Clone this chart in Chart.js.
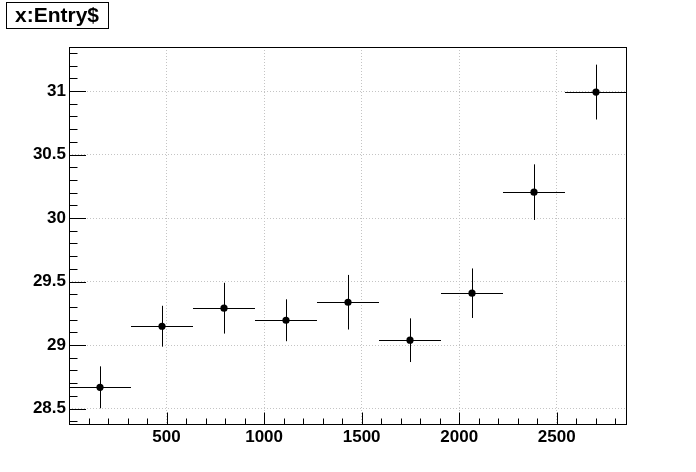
<!DOCTYPE html>
<html>
<head>
<meta charset="utf-8">
<script src="https://cdn.jsdelivr.net/npm/chart.js@4.4.0/dist/chart.umd.min.js"></script>
<style>
    html, body { margin: 0; padding: 0; background: #fff; }
    #wrap { width: 696px; height: 472px; }
</style>
</head>
<body>
<div id="wrap"><canvas id="entryCanvas" width="696" height="472"></canvas></div>
<script>
// values (bin centres, means, errors)
const binCenters = [158.9, 476.7, 794.4, 1112.2, 1430, 1747.8, 2065.6, 2383.3, 2701.1];
const binHalfWidth = 158.9;
const yValues = [28.667, 29.148, 29.290, 29.195, 29.337, 29.038, 29.408, 30.204, 30.992];
const yErrors = [0.165, 0.161, 0.200, 0.165, 0.215, 0.172, 0.195, 0.219, 0.216];
const xTicks = [500, 1000, 1500, 2000, 2500];
const yTicks = [28.5, 29, 29.5, 30, 30.5, 31];
const xRange = [0, 2860];
const yRange = [28.378, 31.347];
const titleText = 'x:Entry$';

const labelFont = { family: 'Liberation Sans', weight: 'bold', size: 17 };
const gridColor = '#c4c4c4';

// ROOT-like frame, inward tick marks, error bars and title box
const rootStyle = {
    id: 'rootStyle',
    beforeDatasetsDraw(chart) {
        const { ctx, scales: { x, y } } = chart;
        ctx.save();
        ctx.strokeStyle = '#000';
        ctx.lineWidth = 1;
        binCenters.forEach((c, i) => {
            const px = Math.round(x.getPixelForValue(c)) + 0.5;
            const py = Math.round(y.getPixelForValue(yValues[i])) + 0.5;
            ctx.beginPath();
            ctx.moveTo(x.getPixelForValue(c - binHalfWidth), py);
            ctx.lineTo(x.getPixelForValue(c + binHalfWidth), py);
            ctx.moveTo(px, y.getPixelForValue(yValues[i] - yErrors[i]));
            ctx.lineTo(px, y.getPixelForValue(yValues[i] + yErrors[i]));
            ctx.stroke();
        });
        ctx.restore();
    },
    afterDraw(chart) {
        const { ctx, chartArea: a, scales: { x, y } } = chart;
        ctx.save();
        ctx.strokeStyle = '#000';
        ctx.lineWidth = 1;

        // frame
        ctx.strokeRect(a.left + 0.5, a.top + 0.5, a.right - a.left - 1, a.bottom - a.top);

        // y ticks: major every 0.5, minor every 0.1
        ctx.beginPath();
        for (let k = 284; k <= 313; k++) {
            const v = k / 10;
            const py = Math.round(y.getPixelForValue(v)) + 0.5;
            const len = (k % 5 === 0) ? 17 : 8.5;
            ctx.moveTo(a.left, py);
            ctx.lineTo(a.left + len, py);
        }
        // x ticks: major every 500, minor every 100
        for (let k = 1; k <= 28; k++) {
            const v = k * 100;
            const px = Math.round(x.getPixelForValue(v)) + 0.5;
            const len = (k % 5 === 0) ? 11.5 : 5.5;
            ctx.moveTo(px, a.bottom);
            ctx.lineTo(px, a.bottom - len);
        }
        ctx.stroke();

        // title box
        ctx.fillStyle = '#fff';
        ctx.fillRect(6, 2, 103, 27);
        ctx.strokeRect(6.5, 2.5, 102, 26);
        ctx.fillStyle = '#000';
        ctx.font = 'bold 21px "Liberation Sans", Arial, sans-serif';
        ctx.textBaseline = 'alphabetic';
        ctx.textAlign = 'left';
        ctx.fillText(titleText, 15, 22);
        ctx.restore();
    }
};

const ctx = document.getElementById('entryCanvas').getContext('2d');
new Chart(ctx, {
    type: 'scatter',
    data: {
        datasets: [{
            data: binCenters.map((c, i) => ({ x: c, y: yValues[i] })),
            pointRadius: 3.6,
            pointBackgroundColor: '#000',
            pointBorderWidth: 0,
            showLine: false
        }]
    },
    options: {
        responsive: false,
        animation: false,
        devicePixelRatio: 1,
        layout: { padding: { left: 0, top: 47, right: 69, bottom: 0 } },
        plugins: { legend: { display: false }, tooltip: { enabled: false }, title: { display: false } },
        scales: {
            x: {
                type: 'linear',
                min: xRange[0],
                max: xRange[1],
                afterBuildTicks: s => { s.ticks = xTicks.map(v => ({ value: v })); },
                afterFit: s => { s.height = 48; },
                ticks: { color: '#000', font: labelFont, padding: 3, maxRotation: 0, autoSkip: false, callback: v => String(v) },
                grid: { color: gridColor, lineWidth: 1, drawTicks: false },
                border: { display: false, dash: [1, 2] }
            },
            y: {
                type: 'linear',
                min: yRange[0],
                max: yRange[1],
                afterBuildTicks: s => { s.ticks = yTicks.map(v => ({ value: v })); },
                afterFit: s => { s.width = 69; },
                ticks: { color: '#000', font: labelFont, padding: 3, autoSkip: false, callback: v => String(v) },
                grid: { color: gridColor, lineWidth: 1, drawTicks: false },
                border: { display: false, dash: [1, 2] }
            }
        }
    },
    plugins: [rootStyle]
});
</script>
</body>
</html>
